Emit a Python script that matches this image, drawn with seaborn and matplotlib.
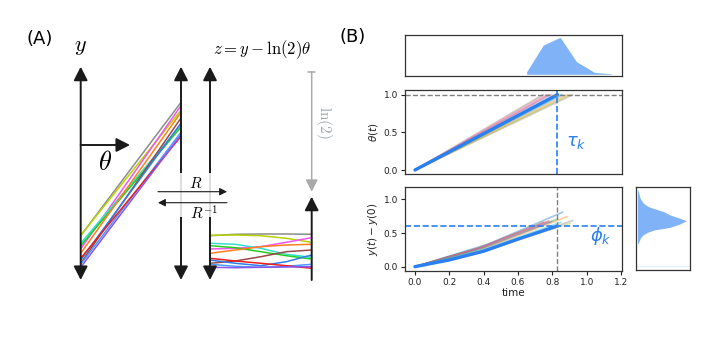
import numpy as np
import matplotlib
matplotlib.use('Agg')
import matplotlib.pyplot as plt
import seaborn as sns
from matplotlib.patches import Rectangle

sns.set_theme(style='ticks', rc={'text.color': 'black', 'axes.labelcolor': '#222222',
                                 'xtick.color': '#222222', 'ytick.color': '#222222'})
plt.rcParams['font.family'] = ['DejaVu Sans']

# ---------------- panel A data (figure pixel units, y grows downward) ----------------
traj_colors = ['#8c8c8c', '#b8d400', '#ee55ee', '#33e0d0', '#22cc22', '#ff7f1e',
               '#994848', '#2f7de8', '#4a9aff', '#ee1c1c', '#8a55ee']
# z = y - ln(2) theta, sampled at 5 equally spaced points along the right-hand box
z_gray    = [235.7, 234.3, 234.0, 234.0, 234.3]
z_olive   = [235.3, 235.0, 235.7, 238.3, 242.3]
z_magenta = [249.0, 248.3, 246.7, 242.3, 237.7]
z_cyan    = [243.3, 244.3, 248.3, 254.3, 257.3]
z_green   = [245.7, 247.7, 251.7, 255.7, 259.0]
z_orange  = [253.3, 250.0, 246.7, 245.0, 244.3]
z_brown   = [263.3, 261.0, 256.7, 251.7, 250.0]
z_blue    = [260.0, 263.3, 265.7, 261.7, 255.0]
z_blue2   = [264.3, 266.3, 267.3, 266.3, 264.3]
z_red     = [258.3, 261.0, 263.3, 265.7, 268.3]
z_purple  = [267.3, 267.7, 267.3, 267.0, 266.7]
z_paths = [z_gray, z_olive, z_magenta, z_cyan, z_green, z_orange,
           z_brown, z_blue, z_blue2, z_red, z_purple]
ln2_shift = 132  # pixels

# ---------------- panel B data ----------------
blue = '#2a80f0'
faint_colors = ['tab:blue', 'tab:orange', 'tab:green', 'tab:red', 'tab:purple',
                'tab:brown', 'tab:pink', 'tab:gray', 'tab:olive', 'tab:cyan']
hit_times = [0.86, 0.887, 0.83, 0.78, 0.795, 0.747, 0.766, 0.918, 0.903, 0.85]
phi_mid   = [0.34, 0.31, 0.30, 0.29, 0.28, 0.28, 0.28, 0.29, 0.27, 0.28]
phi_end   = [0.81, 0.745, 0.71, 0.68, 0.67, 0.66, 0.67, 0.685, 0.645, 0.66]

tau_k = 0.829
phi_k = 0.605
main_t   = [0.0, 0.2, 0.4, 0.6, 0.829]
main_phi = [0.0, 0.10, 0.23, 0.41, 0.605]

tau_x       = [0.65, 0.65, 0.747, 0.845, 0.94, 1.044, 1.146]
tau_density = [0.0, 0.07, 0.79, 1.0, 0.34, 0.054, 0.01]

phi_levels  = [0.33, 0.348, 0.422, 0.471, 0.511, 0.545, 0.58, 0.63, 0.679,
               0.719, 0.768, 0.817, 0.857, 0.892, 0.942, 1.016, 1.114, 1.15]
phi_density = [0.0, 0.02, 0.06, 0.12, 0.22, 0.36, 0.66, 0.86, 1.0,
               0.86, 0.66, 0.53, 0.36, 0.22, 0.12, 0.054, 0.02, 0.0]

W, H = 714, 343
fig = plt.figure(figsize=(W / 100, H / 100), dpi=100)

# ---------------- panel A ----------------
axA = fig.add_axes([0, 0, 1, 1])
axA.set_xlim(0, W)
axA.set_ylim(H, 0)
axA.axis('off')


def arrow(ax, tail, tip, style='-|>', lw=1.4, color='k', ms=15, z=3):
    ax.annotate('', xy=tip, xytext=tail,
                arrowprops=dict(arrowstyle=style + ',head_length=0.55,head_width=0.28',
                                lw=lw, color=color, mutation_scale=ms,
                                shrinkA=0, shrinkB=0), zorder=z)


x_y, x_r, x_z, x_zr = 80.7, 181, 210, 311.7
top, bot = 66.7, 280
arrow(axA, (x_y, bot), (x_y, top), '<|-|>')
arrow(axA, (x_r, bot), (x_r, top), '<|-|>')
arrow(axA, (x_z, bot), (x_z, top), '<|-|>')
arrow(axA, (x_zr, bot), (x_zr, 196.7), '-|>')
arrow(axA, (x_y, 145), (130, 145), '-|>')

# trajectories in y (straight lines) and in z (wiggly)
z_x = np.linspace(x_z, x_zr, 5)
for c, zp in zip(traj_colors, z_paths):
    sns.lineplot(x=[x_y, x_r], y=[zp[0], zp[-1] - ln2_shift], ax=axA,
                 color=c, lw=1.1, zorder=2)
    sns.lineplot(x=z_x, y=zp, ax=axA, color=c, lw=1.1, zorder=2)

# semi transparent box behind R arrows
axA.add_patch(Rectangle((157, 173), 73, 44, facecolor='white', alpha=0.85,
                        edgecolor='none', zorder=4))
arrow(axA, (158, 191.7), (227, 191.7), '-|>', lw=0.8, ms=8, z=5)
arrow(axA, (227, 202.7), (158, 202.7), '-|>', lw=0.8, ms=8, z=5)

# ln(2) shift arrow
arrow(axA, (x_zr, 71.7), (x_zr, 191.7), '-|>', lw=1.1, color='#aaaaaa', ms=13)
axA.plot([x_zr - 3.5, x_zr + 3.5], [71.7, 71.7], color='#aaaaaa', lw=1.1)

cm = dict(math_fontfamily='cm')
axA.text(40, 39, '(A)', fontsize=13, ha='center', va='center')
axA.text(353, 37, '(B)', fontsize=13, ha='center', va='center')
axA.text(x_y, 47, '$y$', fontsize=16, ha='center', va='center', **cm)
axA.text(262, 50, r'$z = y - \ln(2)\theta$', fontsize=12, ha='center', va='center', **cm)
axA.text(105, 163, r'$\theta$', fontsize=19, ha='center', va='center', **cm)
axA.text(196, 183, '$R$', fontsize=11, ha='center', va='center', zorder=6, **cm)
axA.text(204, 214, '$R^{-1}$', fontsize=11, ha='center', va='center', zorder=6, **cm)
axA.text(324, 122, r'$\ln(2)$', fontsize=11, rotation=-90, color='#9ea8ae',
         ha='center', va='center', **cm)


# ---------------- panel B ----------------
def fa(x0, y0, x1, y1):
    return [x0 / W, 1 - y1 / H, (x1 - x0) / W, (y1 - y0) / H]


ax_top = fig.add_axes(fa(405, 35, 622, 76))
ax_th = fig.add_axes(fa(405, 90, 622, 174))
ax_y = fig.add_axes(fa(405, 187.3, 622, 270.7))
ax_r = fig.add_axes(fa(635.5, 187.3, 690.5, 270.2))

xlim = (-0.058, 1.205)

ax_top.fill_between(tau_x, tau_density, color=blue, alpha=0.6, lw=0)
ax_top.set_xlim(*xlim)
ax_top.set_ylim(-0.046, 1.062)
ax_top.set_xticks([])
ax_top.set_yticks([])

for c, T, m, e in zip(faint_colors, hit_times, phi_mid, phi_end):
    sns.lineplot(x=[0, T], y=[0, 1], ax=ax_th, color=c, alpha=0.35, lw=1.4)
    sns.lineplot(x=[0, T / 2, T], y=[0, m, e], ax=ax_y, color=c, alpha=0.4, lw=1.2)

sns.lineplot(x=[0, tau_k], y=[0, 1], ax=ax_th, color=blue, lw=2.4)
sns.lineplot(x=main_t, y=main_phi, ax=ax_y, color=blue, lw=2.4)

ax_th.axhline(1.0, color='gray', ls='--', lw=1)
ax_th.axvline(tau_k, color=blue, ls='--', lw=1.2)
ax_th.set_xlim(*xlim)
ax_th.set_ylim(-0.053, 1.062)
ax_th.set_yticks([0, 0.5, 1.0])
ax_th.set_xticks([])
ax_th.set_ylabel(r'$\theta(t)$', fontsize=7.5, labelpad=3)
ax_th.text(0.94, 0.37, r'$\tau_k$', color=blue, fontsize=13, ha='center', va='center')

ax_y.axhline(phi_k, color=blue, ls='--', lw=1.2)
ax_y.axvline(tau_k, color='gray', ls='--', lw=1)
ax_y.set_xlim(*xlim)
ax_y.set_ylim(-0.06, 1.18)
ax_y.set_yticks([0, 0.5, 1.0])
ax_y.set_xticks([0, 0.2, 0.4, 0.6, 0.8, 1.0, 1.2])
ax_y.set_ylabel(r'$y(t) - y(0)$', fontsize=7.5, labelpad=3)
ax_y.set_xlabel('time', fontsize=7.5, labelpad=1)
ax_y.text(1.08, 0.46, r'$\phi_k$', color=blue, fontsize=13, ha='center', va='center')

ax_r.fill_betweenx(phi_levels, 0, phi_density, color=blue, alpha=0.6, lw=0)
ax_r.axhline(0.0, color=blue, alpha=0.12, lw=1)
ax_r.set_xlim(-0.04, 1.083)
ax_r.set_ylim(-0.06, 1.18)
ax_r.set_xticks([])
ax_r.set_yticks([])

for ax in (ax_top, ax_th, ax_y, ax_r):
    for s in ax.spines.values():
        s.set_visible(True)
        s.set_color('#333333')
        s.set_linewidth(0.9)
    ax.tick_params(labelsize=6.5, length=3, width=0.8, pad=2)

fig.savefig('out.png', dpi=100)
